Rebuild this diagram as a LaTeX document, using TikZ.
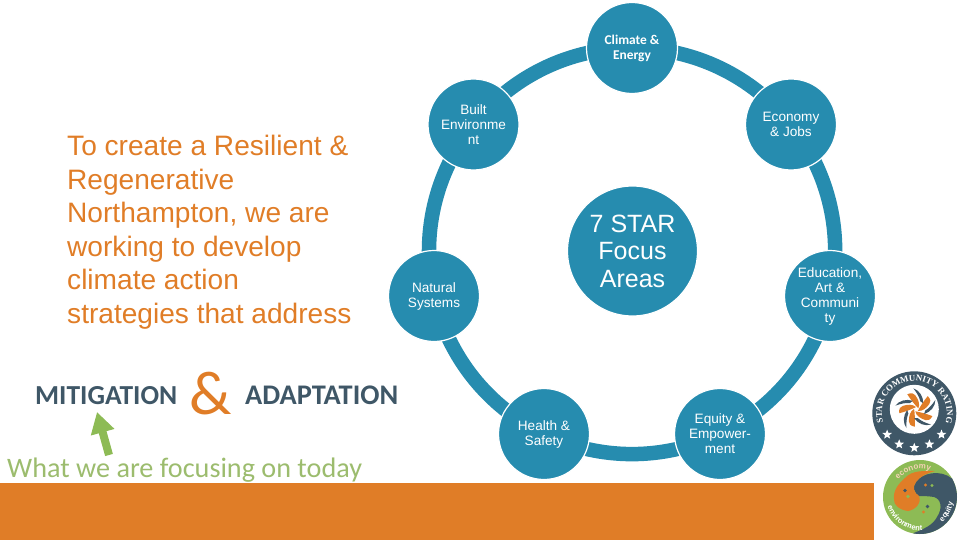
\documentclass[tikz,border=0pt]{standalone}
\usepackage{fontspec}
\setmainfont{Liberation Sans}
\newfontfamily\calibrifont{Carlito}
\newfontfamily\ratingfont{Liberation Serif}
\usetikzlibrary{arrows.meta,backgrounds,decorations.text,shapes.geometric}
\definecolor{ring}{HTML}{268CAF}
\definecolor{bar}{HTML}{E07D27}
\definecolor{leaf}{HTML}{8DBB55}
\definecolor{slate}{HTML}{3F5767}
\definecolor{soft}{HTML}{9CBC6E}
\begin{document}
\begin{tikzpicture}[
  x=1pt, y=-1pt,
  every node/.style={inner sep=0pt},
  area/.style={circle, fill=ring, draw=white, line width=1.2pt, minimum size=91pt, align=center, text=white, font=\fontsize{13.6}{15}\selectfont},
  hub/.style={area, minimum size=130pt, font=\fontsize{25}{27.5}\selectfont},
  link/.style={draw=ring, line width=14.5pt, bend left=25.71, looseness=0.9},
  lead/.style={anchor=north west, align=left, text=bar, font=\fontsize{28.1}{33.6}\selectfont},
  word/.style={anchor=base west, text=slate, font=\calibrifont\fontsize{27.5}{30}\selectfont\bfseries},
  focus/.style={draw=leaf, line width=8pt, -{Triangle[length=21pt,width=23pt]}},
  logostar/.style={star, star points=5, star point ratio=2.3, fill=white, minimum size=10pt},
  curved/.style={decorate, decoration={text along path, text align=center, text={#1}}},
]
\useasboundingbox (0,0) rectangle (960,540);
\fill[bar] (0,483) rectangle (873.5,540);
\node[hub] (hub) at (632.5,251) {7 STAR\\Focus\\Areas};
\node[area, font=\calibrifont\fontsize{13.4}{15}\selectfont\bfseries] (climate) at (632,48) {Climate \&\\Energy};
\node[area] (economy) at (791,124.5) {Economy\\\&~Jobs};
\node[area] (education) at (830,296) {Education,\\Art \&\\Communi\\ty};
\node[area] (equity) at (720,434) {Equity \&\\Empower-\\ment};
\node[area] (health) at (544,434) {Health \&\\Safety};
\node[area] (natural) at (434,296) {Natural\\Systems};
\node[area] (built) at (473.5,124.5) {Built\\Environme\\nt};
\begin{pgfonlayer}{background}
\foreach \a/\b in {climate/economy,economy/education,education/equity,equity/health,health/natural,natural/built,built/climate}
  \draw[link] (\a.center) to (\b.center);
\end{pgfonlayer}
\node[lead] (lead) at (67,135) {To create a Resilient \&\\Regenerative\\Northampton, we are\\working to develop\\climate action\\strategies that address};
\node[word] (mitigation) at (35,404) {MITIGATION};
\node[text=bar, font=\calibrifont\fontsize{62}{66}\selectfont, anchor=base] (and) at (211,414) {\&};
\node[word, font=\calibrifont\fontsize{28.4}{30}\selectfont\bfseries] (adaptation) at (245,404) {ADAPTATION};
\node[text=soft, font=\calibrifont\fontsize{28.2}{30}\selectfont, anchor=base west] (today) at (7,477) {What we are focusing on today};
\coordinate (arrowfoot) at (109,455);
\coordinate (arrowtip) at (97,412);
\draw[focus] (arrowfoot) -- (arrowtip);
% rating badge
\begin{scope}[shift={(914.3,413.3)}, y=1pt]
  \fill[slate] (0,0) circle (42);
  \fill[white] (0,4) circle (24.5);
  \foreach \i in {0,...,4} {
    \begin{scope}[shift={(2,4)}, rotate=\i*72]
      \fill[bar] (2,1) .. controls (-1,4) and (-6,10) .. (-9,15) .. controls (-5,17) and (-2,16) .. (-1,14) .. controls (2,10) and (4,5) .. (2,1);
      \fill[slate] (-3,21) .. controls (3,19) and (7,13) .. (7,6) -- (4,8) .. controls (3,12) and (1,16) .. (-3,21);
    \end{scope}
  }
  \foreach \t in {218,244,270,296,322}
    \node[logostar] (star\t) at (\t:34.5) {};
  \path[curved={|\ratingfont\fontsize{8.8}{10}\selectfont\bfseries\color{white}|STAR COMMUNITY RATING}] (215:32.5) arc[start angle=215, end angle=-35, radius=32.5];
\end{scope}
% three pillars badge
\begin{scope}[shift={(920,497)}, y=1pt]
  \fill[leaf] (0,0) circle (37);
  \fill[slate] (32,18.5) arc[start angle=30, end angle=-101, radius=37] .. controls (4,-32) and (13,-28) .. (17,-20) .. controls (23,-11) and (21,-2) .. (14,0) .. controls (8,1) and (2,1) .. (-1,1) .. controls (-6,4) and (-8,10) .. (-4,15) .. controls (2,24) and (20,28) .. (32,18.5);
  \fill[bar] (15,26) .. controls (4,26) and (-8,27) .. (-15,19) .. controls (-22,13) and (-27,6) .. (-26,-2) .. controls (-27,-8) and (-20,-13) .. (-12,-14) .. controls (-5,-13) and (2,-6) .. (-1,1) .. controls (-6,4) and (-8,10) .. (-4,15) .. controls (0,21) and (8,24) .. (15,26);
  \fill[slate] (-15,6.5) circle (1.9);
  \fill[leaf] (-12,0.5) circle (1.9);
  \fill[bar] (5.5,12) circle (1.7);
  \fill[leaf] (12,11.5) circle (1.7);
  \fill[slate] (7.5,-9.5) circle (1.9);
  \fill[bar] (3.5,-15) circle (1.7);
  \path[curved={|\fontsize{8}{9}\selectfont\bfseries\color{bar!35!white}|economy}] (148:28) arc[start angle=148, end angle=62, radius=28];
  \path[curved={|\fontsize{7.6}{9}\selectfont\bfseries\color{white}|environment}] (178:33.5) arc[start angle=178, end angle=292, radius=33.5];
  \path[curved={|\fontsize{7.6}{9}\selectfont\bfseries\color{white}|equity}] (-56:33.5) arc[start angle=-56, end angle=-2, radius=33.5];
\end{scope}
\end{tikzpicture}
\end{document}
